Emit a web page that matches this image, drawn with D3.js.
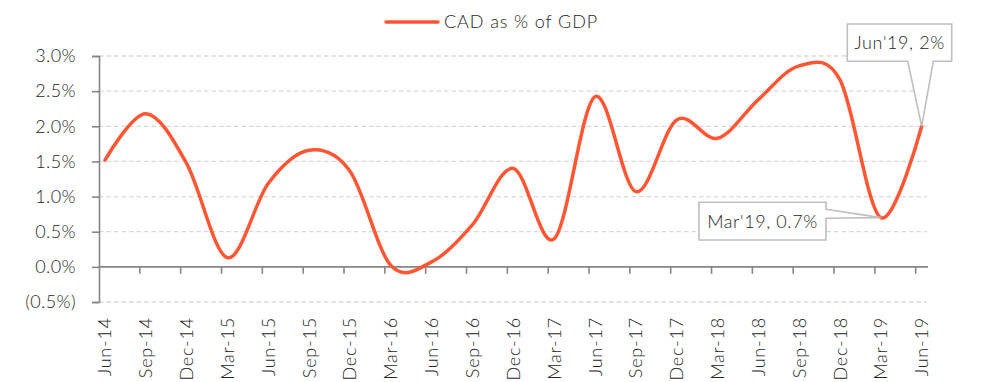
<!DOCTYPE html>
<html>
<head>
<meta charset="utf-8">
<script src="https://cdn.jsdelivr.net/npm/d3@7"></script>
<style>
  html, body { margin: 0; padding: 0; background: #fff; }
  svg { display: block; }
  text { font-family: Lato, "Open Sans", sans-serif; font-weight: 300; fill: #262626; }
</style>
</head>
<body>
<svg id="chart" width="982" height="382"></svg>
<script>
// Current account deficit as a share of GDP, quarterly
const quarters = ["Jun-14","Sep-14","Dec-14","Mar-15","Jun-15","Sep-15","Dec-15","Mar-16",
  "Jun-16","Sep-16","Dec-16","Mar-17","Jun-17","Sep-17","Dec-17","Mar-18","Jun-18",
  "Sep-18","Dec-18","Mar-19","Jun-19"];
const cadPct = [1.52, 2.18, 1.47, 0.13, 1.19, 1.66, 1.36, 0.02, 0.07, 0.6, 1.4, 0.4,
  2.42, 1.07, 2.09, 1.83, 2.38, 2.86, 2.66, 0.7, 2.0];
const yTicks = [-0.5, 0, 0.5, 1.0, 1.5, 2.0, 2.5, 3.0];
const seriesName = "CAD as % of GDP";
const callouts = [
  { index: 20, text: "Jun'19, 2%" },
  { index: 19, text: "Mar'19, 0.7%" }
];

const svg = d3.select("#chart");
const lineColor = "#ff5733";
const axisColor = "#868686";
const textColor = "#262626";

const x = d3.scalePoint().domain(quarters).range([105, 921.7]);
const y = d3.scaleLinear().domain([-0.5, 3.0]).range([302, 56]);
const axisLeft = 99, axisRight = 928;

const fmt = v => v < 0 ? "(" + Math.abs(v).toFixed(1) + "%)" : v.toFixed(1) + "%";

// dashed horizontal gridlines
svg.append("g").selectAll("line")
  .data(yTicks.filter(v => v !== 0))
  .join("line")
  .attr("x1", axisLeft).attr("x2", 927)
  .attr("y1", d => y(d)).attr("y2", d => y(d))
  .attr("stroke", "#d9d9d9").attr("stroke-width", 1.3)
  .attr("stroke-dasharray", "4.5,3");

// y axis
const yAxis = d3.axisLeft(y).tickValues(yTicks).tickFormat(fmt).tickSize(7).tickPadding(16);
const gy = svg.append("g").attr("transform", `translate(${axisLeft},0)`).call(yAxis);
gy.select(".domain").attr("stroke", axisColor).attr("stroke-width", 1.6);
gy.selectAll(".tick line").attr("stroke", axisColor).attr("stroke-width", 1.6);
gy.selectAll(".tick text").attr("font-size", 18).attr("fill", textColor)
  .style("font-family", "Lato, sans-serif").style("font-weight", 300)
  .style("letter-spacing", "0.4px");

// x axis along zero line; ticks sit just left of each quarter point
const gx = svg.append("g");
gx.append("line")
  .attr("x1", axisLeft).attr("x2", axisRight)
  .attr("y1", y(0)).attr("y2", y(0))
  .attr("stroke", axisColor).attr("stroke-width", 1.8);
gx.selectAll("line.tick")
  .data(quarters.slice(1))
  .join("line").attr("class", "tick")
  .attr("x1", d => x(d) - 6).attr("x2", d => x(d) - 6)
  .attr("y1", y(0)).attr("y2", y(0) + 7)
  .attr("stroke", axisColor).attr("stroke-width", 1.6);

// rotated category labels under the chart
svg.append("g").selectAll("text")
  .data(quarters)
  .join("text")
  .attr("transform", d => `translate(${x(d)},317) rotate(-90)`)
  .attr("text-anchor", "end")
  .attr("dy", "0.36em")
  .attr("font-size", 18)
  .style("letter-spacing", "0.8px")
  .text(d => d);

// smoothed series line
const line = d3.line()
  .x((d, i) => x(quarters[i]))
  .y(d => y(d))
  .curve(d3.curveCatmullRom.alpha(0));
svg.append("path")
  .datum(cadPct)
  .attr("d", line)
  .attr("fill", "none")
  .attr("stroke", lineColor)
  .attr("stroke-width", 3.5)
  .attr("stroke-linecap", "round");

// legend
const lg = svg.append("g");
lg.append("line").attr("x1", 386).attr("x2", 438).attr("y1", 22).attr("y2", 22)
  .attr("stroke", lineColor).attr("stroke-width", 3.5).attr("stroke-linecap", "round");
lg.append("text").attr("x", 444).attr("y", 22).attr("dy", "0.35em")
  .attr("font-size", 18).style("letter-spacing", "0.9px").text(seriesName);

// data callouts: box with a wedge pointing to the point
function calloutAbove(px, py, text) {
  const bx0 = 847.3, bx1 = 951.7, by0 = 24, by1 = 61.3;
  const l0 = 907.7, l1 = 933.3;
  const path = `M${bx0},${by0}H${bx1}V${by1}H${l1}L${px},${py}L${l0},${by1}H${bx0}Z`;
  const g = svg.append("g");
  g.append("path").attr("d", path).attr("fill", "#fff")
    .attr("stroke", "#bfbfbf").attr("stroke-width", 1.6).attr("stroke-linejoin", "miter");
  g.append("text").attr("x", (bx0 + bx1) / 2).attr("y", (by0 + by1) / 2).attr("dy", "0.36em")
    .attr("text-anchor", "middle").attr("font-size", 18).style("letter-spacing", "0.6px").text(text);
}
function calloutLeft(px, py, text) {
  const bx0 = 699, bx1 = 826, by0 = 202.3, by1 = 240;
  const l0 = 209.3, l1 = 218.3;
  const path = `M${bx0},${by0}H${bx1}V${l0}L${px},${py}L${bx1},${l1}V${by1}H${bx0}Z`;
  const g = svg.append("g");
  g.append("path").attr("d", path).attr("fill", "#fff")
    .attr("stroke", "#bfbfbf").attr("stroke-width", 1.6).attr("stroke-linejoin", "miter");
  g.append("text").attr("x", (bx0 + bx1) / 2).attr("y", (by0 + by1) / 2).attr("dy", "0.36em")
    .attr("text-anchor", "middle").attr("font-size", 18).style("letter-spacing", "0.6px").text(text);
}
const c0 = callouts[0], c1 = callouts[1];
calloutAbove(x(quarters[c0.index]), y(cadPct[c0.index]), c0.text);
calloutLeft(x(quarters[c1.index]), y(cadPct[c1.index]), c1.text);
</script>
</body>
</html>
